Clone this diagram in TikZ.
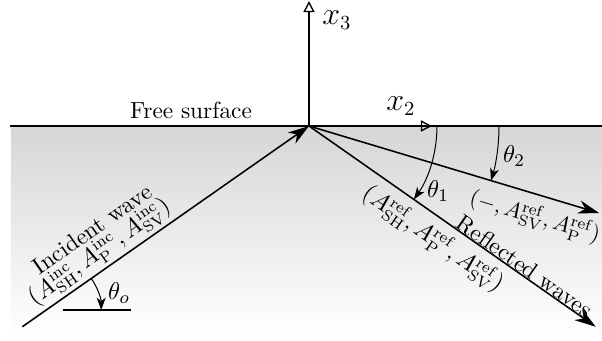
\documentclass[tikz,border=0pt]{standalone}
\usetikzlibrary{arrows.meta,calc}
\begin{document}
\begin{tikzpicture}[x=0.45pt,y=-0.45pt,
  wave/.style={line width=0.7pt,-{Stealth[length=9.5pt,width=6pt,inset=3pt]}},
  axis/.style={line width=0.6pt,-{Triangle[open,length=5pt,width=5pt]}},
  anglearc/.style={line width=0.45pt,-{Stealth[length=5.5pt,width=4pt,inset=1.5pt]}},
  lbl/.style={font=\fontsize{11}{13}\selectfont},
  axlbl/.style={font=\fontsize{13.5}{15}\selectfont},
  txt/.style={inner sep=1pt, font=\fontsize{10.5}{12.5}\selectfont}]
\useasboundingbox (0,0) rectangle (602,340);
\shade[top color=gray!32, bottom color=white] (11,126) rectangle (602,336);
% points
\coordinate (O) at (309,126);
\coordinate (SL) at (10,126);
\coordinate (SR) at (602,126);
\coordinate (X3) at (309,1);
\coordinate (X2) at (432,126);
\coordinate (I) at ($(O)+(145:350)$);
\coordinate (R1) at ($(O)+(35:350)$);
\coordinate (R2) at ($(O)+(16.7:303)$);
\coordinate (C) at (46.2,310);
\coordinate (HL) at (63,310);
\coordinate (HR) at (131,310);
% surface and axes
\draw[line width=0.7pt] (SL) -- (SR);
\node[anchor=base, font=\fontsize{10.5}{12.5}\selectfont] (fs) at (191,118) {Free surface};
\draw[axis] (O) -- (X3);
\draw[axis] (O) -- (X2);
\node[axlbl] (x3) at (337,20) {$x_3$};
\node[axlbl] (x2) at (401,106) {$x_2$};
% waves
\draw[wave] (I) -- (O);
\draw[wave] (O) -- (R1);
\draw[wave] (O) -- (R2);
% angles
\draw[line width=0.6pt] (HL) -- (HR);
\draw[anglearc] ($(C)+(-35:55)$) arc[start angle=-35, end angle=0, radius=55];
\draw[anglearc] ($(O)+(128,0)$) arc[start angle=0, end angle=35, radius=128];
\draw[anglearc] ($(O)+(190,0)$) arc[start angle=0, end angle=16.7, radius=190];
\node[lbl] (to) at (119,293) {$\theta_o$};
\node[lbl] (t1) at (438,191) {$\theta_1$};
\node[lbl] (t2) at (514,156) {$\theta_2$};
% wave labels
\node[txt, rotate=35] (inc1) at (92,229) {Incident wave};
\node[txt, rotate=35] (inc2) at (99.3,252) {$(A^{\mathrm{inc}}_{\mathrm{SH}}, A^{\mathrm{inc}}_{\mathrm{P}}, A^{\mathrm{inc}}_{\mathrm{SV}})$};
\node[txt, rotate=-35] (refl) at (524.7,266) {Reflected waves};
\node[txt, rotate=-35] (ref1) at (433.2,239) {$(A^{\mathrm{ref}}_{\mathrm{SH}}, A^{\mathrm{ref}}_{\mathrm{P}}, A^{\mathrm{ref}}_{\mathrm{SV}})$};
\node[txt, rotate=-16.7, font=\fontsize{10}{12}\selectfont] (ref2) at (535,217) {$(-, A^{\mathrm{ref}}_{\mathrm{SV}}, A^{\mathrm{ref}}_{\mathrm{P}})$};
\end{tikzpicture}
\end{document}
